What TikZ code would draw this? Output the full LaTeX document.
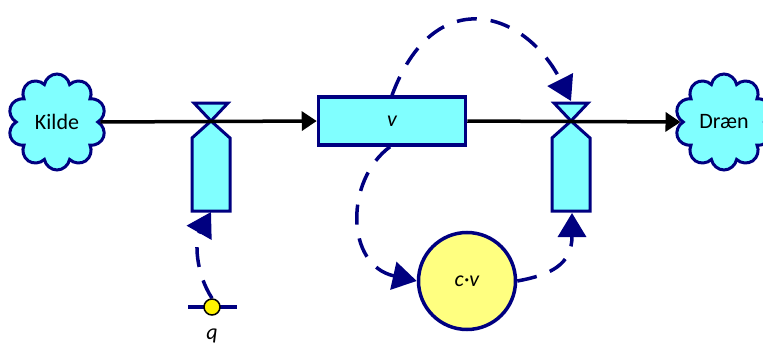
\documentclass[tikz,border=0pt]{standalone}
\usepackage{fontspec}
\setmainfont{Carlito}
\usetikzlibrary{shapes.symbols,arrows.meta}
\definecolor{navy}{HTML}{000080}
\definecolor{cyanf}{HTML}{80FFFF}
\definecolor{yell}{HTML}{FFFF80}
\begin{document}
\begin{tikzpicture}[x=1pt,y=-1pt,
  cloudnode/.style={cloud, cloud puffs=10, cloud puff arc=160, aspect=1, draw=navy, line width=3pt, fill=cyanf, minimum width=98pt, minimum height=96pt, inner sep=0pt, font=\fontsize{22}{26}\selectfont},
  stockbox/.style={draw=navy, line width=3.5pt, fill=cyanf, minimum width=147pt, minimum height=48pt, inner sep=0pt, font=\fontsize{22}{26}\selectfont\itshape},
  auxnode/.style={circle, draw=navy, line width=3.5pt, fill=yell, minimum size=97pt, inner sep=0pt, font=\fontsize{22}{26}\selectfont\itshape},
  qdot/.style={circle, draw=black, line width=1.5pt, fill=yellow, minimum size=16pt, inner sep=0pt},
  valvepart/.style={draw=navy, line width=3pt, fill=cyanf, line join=miter},
  flow/.style={draw=black, line width=3.5pt, -{Triangle[length=15pt,width=19pt]}},
  link/.style={draw=navy, line width=3.5pt, dash pattern=on 20pt off 14pt, -{Triangle[length=24pt,width=28pt]}},
  txt/.style={font=\fontsize{22}{26}\selectfont\itshape}
]
\useasboundingbox (0,0) rectangle (763,345);
% valves
\foreach \cx/\nm in {211/v1, 571/v2}{
  \path[valvepart] (\cx-17,103) -- (\cx+17,103) -- (\cx,121) -- cycle;
  \path[valvepart] (\cx,121) -- (\cx+19,138) -- (\cx+19,211) -- (\cx-19,211) -- (\cx-19,138) -- cycle;
}
\coordinate (v1c) at (211,121);
\coordinate (v1b) at (211,212);
\coordinate (v2c) at (571,121);
\coordinate (v2t) at (571,101);
\coordinate (v2b) at (572,213);
% nodes
\node[cloudnode] (kilde) at (57,122) {Kilde};
\node[cloudnode] (draen) at (724,122) {Dræn};
\node[stockbox] (v) at (392,121) {v};
\node[auxnode] (cv) at (467,281) {c·v};
% q auxiliary
\draw[navy, line width=3.5pt] (188,307) -- (237,307);
\node[qdot] (q) at (212,307) {};
\node[txt] (qlabel) at (212,336) {q};
% flows
\draw[flow] (kilde.east) -- (v.west);
\draw[flow] (v.east) -- (draen.west);
% links
\draw[link] (v.north) .. controls (434,-18) and (525,10) .. (v2t);
\draw[link] ([xshift=-2pt]v.south) .. controls (345,180) and (345,265) .. (cv.west);
\draw[link] (cv.east) .. controls (550,275) and (572,265) .. (v2b);
\draw[link] (q.north) .. controls (195,272) and (195,240) .. (v1b);
\end{tikzpicture}
\end{document}
